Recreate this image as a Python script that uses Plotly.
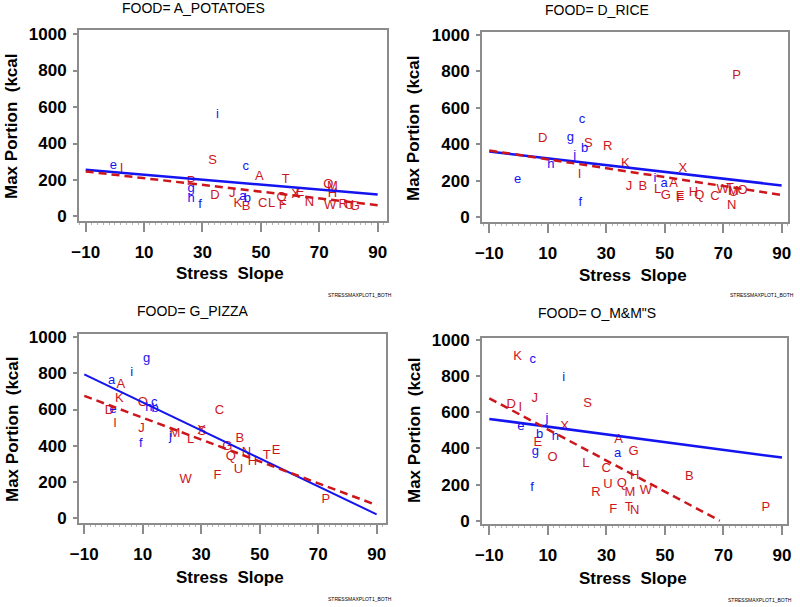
import plotly.graph_objects as go

# ---------------- data ----------------
panel_titles = ["FOOD= A_POTATOES", "FOOD= D_RICE", "FOOD= G_PIZZA", 'FOOD= O_M&M"S']

# Panel 1: potatoes
p1_up_lab = ["I", "S", "A", "T", "O", "M", "H", "X", "E", "Q", "F", "N", "W", "R", "U", "G", "C", "L", "K", "B", "J", "D", "P"]
p1_up_x = [2.3, 33.5, 49.5, 58.5, 73.1, 74.5, 74.5, 61.9, 63.4, 57.1, 57.5, 66.6, 73.7, 78.2, 80.3, 82.2, 50.6, 53.7, 42.1, 44.9, 40.2, 34.3, 26.1]
p1_up_y = [259, 304, 216, 201, 176, 161, 125, 121, 128, 103, 60, 73, 60, 64, 60, 51, 70, 70, 70, 51, 125, 115, 188]
p1_lo_lab = ["e", "i", "c", "a", "b", "g", "h", "f"]
p1_lo_x = [-0.5, 35.1, 44.8, 43.8, 45.4, 26.1, 26.1, 29.2]
p1_lo_y = [277, 555, 271, 106, 97, 152, 97, 64]

# Panel 2: rice
p2_up_lab = ["P", "D", "S", "R", "K", "X", "I", "J", "B", "A", "L", "G", "E", "F", "H", "Q", "C", "W", "T", "M", "U", "O", "N"]
p2_up_x = [74.6, 8.3, 23.9, 30.5, 36.5, 56.2, 20.9, 37.8, 42.5, 53.0, 47.6, 50.4, 55.3, 55.3, 59.8, 61.8, 67.2, 69.8, 72.3, 73.5, 73.5, 76.6, 72.9]
p2_up_y = [775, 428, 402, 388, 293, 263, 232, 165, 165, 181, 150, 117, 112, 101, 135, 117, 110, 150, 157, 141, 135, 146, 64]
p2_lo_lab = ["c", "g", "b", "j", "h", "e", "f", "i", "a"]
p2_lo_x = [21.7, 17.7, 22.6, 19.2, 11.1, -0.3, 21.1, 46.7, 49.8]
p2_lo_y = [534, 433, 378, 336, 287, 205, 77, 210, 181]

# Panel 3: pizza
p3_up_lab = ["A", "K", "O", "D", "C", "I", "J", "M", "L", "X", "S", "B", "G", "N", "H", "U", "Q", "T", "E", "F", "W", "P"]
p3_up_x = [2.5, 2.0, 10.0, -1.4, 36.2, 0.5, 9.6, 21.0, 26.4, 30.1, 30.3, 43.2, 38.9, 45.5, 47.5, 42.7, 40.1, 52.4, 55.6, 35.6, 24.7, 72.6]
p3_up_y = [734, 661, 639, 593, 593, 523, 492, 464, 435, 481, 478, 440, 394, 361, 312, 270, 339, 345, 371, 235, 211, 105]
p3_lo_lab = ["g", "i", "a", "c", "h", "b", "e", "j", "f"]
p3_lo_x = [11.3, 6.2, -0.65, 13.9, 12.1, 14.2, -0.1, 19.5, 9.3]
p3_lo_y = [881, 802, 756, 639, 611, 606, 596, 450, 413]

# Panel 4: M&M's
p4_up_lab = ["K", "J", "S", "D", "I", "X", "E", "A", "G", "O", "L", "C", "H", "B", "U", "Q", "M", "W", "R", "F", "T", "N", "P"]
p4_up_x = [-0.3, 5.5, 23.6, -2.5, 0.6, 15.7, 6.6, 34.2, 39.3, 11.6, 23.0, 29.9, 39.7, 58.3, 30.5, 35.3, 38.0, 43.5, 26.4, 32.3, 37.6, 39.7, 84.5]
p4_up_y = [904, 672, 649, 644, 625, 517, 432, 450, 382, 349, 314, 290, 249, 244, 201, 207, 157, 166, 157, 63, 74, 55, 74]
p4_lo_lab = ["c", "i", "j", "e", "b", "h", "g", "a", "f"]
p4_lo_x = [4.8, 15.4, 9.7, 0.8, 7.2, 12.6, 5.7, 33.8, 4.6]
p4_lo_y = [889, 793, 566, 520, 478, 465, 382, 373, 183]

# fitted regression lines (intercept, slope)
lo_fit_intercept = [242.5, 341.4, 716.8, 541.6]
lo_fit_slope = [-1.35, -1.86, -7.72, -2.14]
up_fit_intercept = [228.5, 341.6, 614.8, 591.0]
up_fit_slope = [-1.85, -2.44, -6.02, -8.60]
fit_x_range = [-10, 90]

x_tickvals = [-10, 10, 30, 50, 70, 90]
y_tickvals = [0, 200, 400, 600, 800, 1000]

panels = [
    (p1_up_lab, p1_up_x, p1_up_y, p1_lo_lab, p1_lo_x, p1_lo_y),
    (p2_up_lab, p2_up_x, p2_up_y, p2_lo_lab, p2_lo_x, p2_lo_y),
    (p3_up_lab, p3_up_x, p3_up_y, p3_lo_lab, p3_lo_x, p3_lo_y),
    (p4_up_lab, p4_up_x, p4_up_y, p4_lo_lab, p4_lo_x, p4_lo_y),
]

# ---------------- layout geometry (pixels) ----------------
W, H = 800, 607
# frame boxes: left, right, top, bottom
boxes = [(79, 387, 30, 220.5), (482, 787.5, 32, 221.5), (79, 386, 333.5, 522.7), (482, 787, 337.5, 524)]
x_ranges = [[-12.3, 93.2], [-12.5, 92.0], [-11.8, 93.2], [-12.5, 91.7]]
y_ranges = [[-22, 1022], [-24, 1016], [-24, 1019], [-18, 1013]]

RED = "rgb(204,22,28)"
BLUE = "rgb(20,20,240)"
GRAY = "rgb(140,140,140)"
FONT = "Liberation Sans, Arial, sans-serif"

fig = go.Figure()

def fit_line(b0, b1):
    xs = [fit_x_range[0], fit_x_range[1]]
    ys = [b0 + b1 * xs[0], b0 + b1 * xs[1]]
    if ys[1] < 0:
        xs[1] = -b0 / b1
        ys[1] = 0
    return xs, ys

for i, (ul, ux, uy, ll, lx, ly) in enumerate(panels):
    n = i + 1
    xa = "x" if n == 1 else f"x{n}"
    ya = "y" if n == 1 else f"y{n}"
    bx, by = fit_line(lo_fit_intercept[i], lo_fit_slope[i])
    rx, ry = fit_line(up_fit_intercept[i], up_fit_slope[i])
    fig.add_trace(go.Scatter(x=ux, y=uy, text=ul, mode="text", xaxis=xa, yaxis=ya,
                             textfont=dict(color=RED, size=13, family=FONT), showlegend=False,
                             hoverinfo="skip"))
    fig.add_trace(go.Scatter(x=lx, y=ly, text=ll, mode="text", xaxis=xa, yaxis=ya,
                             textfont=dict(color=BLUE, size=13, family=FONT), showlegend=False,
                             hoverinfo="skip"))
    fig.add_trace(go.Scatter(x=bx, y=by, mode="lines", xaxis=xa, yaxis=ya,
                             line=dict(color=BLUE, width=2.5 if n != 3 else 2), showlegend=False,
                             hoverinfo="skip"))
    fig.add_trace(go.Scatter(x=rx, y=ry, mode="lines", xaxis=xa, yaxis=ya,
                             line=dict(color=RED, width=2.5, dash="8px,5px"), showlegend=False,
                             hoverinfo="skip"))

layout = dict(width=W, height=H, margin=dict(l=0, r=0, t=0, b=0, autoexpand=False),
              paper_bgcolor="white", plot_bgcolor="white", showlegend=False)

for i, (l, r, t, b) in enumerate(boxes):
    n = i + 1
    xkey = "xaxis" if n == 1 else f"xaxis{n}"
    ykey = "yaxis" if n == 1 else f"yaxis{n}"
    layout[xkey] = dict(domain=[l / W, r / W], range=x_ranges[i], anchor="y" if n == 1 else f"y{n}",
                        tickvals=x_tickvals, showgrid=False, zeroline=False, showline=True,
                        linecolor=GRAY, linewidth=2, mirror=True, ticks="outside", ticklen=9,
                        tickwidth=2, tickcolor=GRAY, ticklabelstandoff=6, automargin=False,
                        tickfont=dict(size=17, family=FONT, color="black", weight="bold"),
                        minor=dict(ticks="outside", ticklen=2, dtick=2, tickcolor="rgb(180,180,180)", tickwidth=1))
    layout[ykey] = dict(domain=[1 - b / H, 1 - t / H], range=y_ranges[i], anchor="x" if n == 1 else f"x{n}",
                        tickvals=y_tickvals, showgrid=False, zeroline=False, showline=True,
                        linecolor=GRAY, linewidth=2, mirror=True, ticks="outside", ticklen=4,
                        tickwidth=2, tickcolor=GRAY, ticklabelstandoff=3, automargin=False,
                        tickfont=dict(size=17, family=FONT, color="black", weight="bold"))

fig.update_layout(**layout)

# titles and axis labels as annotations
title_pos = [(193, 8), (597, 10), (193, 311), (597, 313)]
ytitle_pos = [(12, 127), (414, 128), (12, 430), (414, 430)]
xtitle_pos = [(230, 273), (633, 275), (230, 577), (633, 578)]
foot_pos = [(394, 295), (796, 295), (394, 599), (794, 600)]

for i in range(4):
    fig.add_annotation(text=panel_titles[i], x=title_pos[i][0] / W, y=1 - title_pos[i][1] / H,
                       xref="paper", yref="paper", showarrow=False, xanchor="center", yanchor="middle",
                       font=dict(size=14, family=FONT, color="black"))
    fig.add_annotation(text="Max Portion  (kcal", x=ytitle_pos[i][0] / W, y=1 - ytitle_pos[i][1] / H,
                       xref="paper", yref="paper", showarrow=False, textangle=-90,
                       xanchor="center", yanchor="middle",
                       font=dict(size=17, family=FONT, color="black", weight="bold"))
    fig.add_annotation(text="Stress  Slope", x=xtitle_pos[i][0] / W, y=1 - xtitle_pos[i][1] / H,
                       xref="paper", yref="paper", showarrow=False, xanchor="center", yanchor="middle",
                       font=dict(size=17, family=FONT, color="black", weight="bold"))
    fig.add_annotation(text="STRESSMAXPLOT1_BOTH", x=foot_pos[i][0] / W, y=1 - foot_pos[i][1] / H,
                       xref="paper", yref="paper", showarrow=False, xanchor="right", yanchor="middle",
                       font=dict(size=5, family=FONT, color="black"))

fig.write_html("out.html", config={"displayModeBar": False},
               post_script="document.body.style.margin='0px';document.body.style.padding='0px';"
                           "document.documentElement.style.overflow='hidden';")
